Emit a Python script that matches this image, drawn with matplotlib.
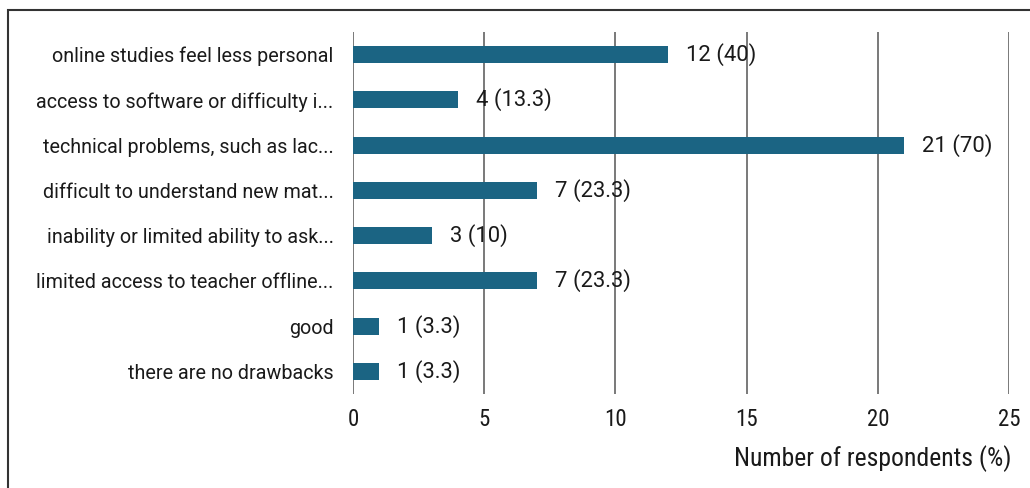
import matplotlib
matplotlib.use("Agg")
import matplotlib.pyplot as plt
from matplotlib.patches import Rectangle
from matplotlib import font_manager

categories = [
    "online studies feel less personal",
    "access to software or difficulty i...",
    "technical problems, such as lac...",
    "difficult to understand new mat...",
    "inability or limited ability to ask...",
    "limited access to teacher offline...",
    "good",
    "there are no drawbacks",
]
counts = [12, 4, 21, 7, 3, 7, 1, 1]
percents = ["40", "13.3", "70", "23.3", "10", "23.3", "3.3", "3.3"]
xticks = [0, 5, 10, 15, 20, 25]

names = {f.name for f in font_manager.fontManager.ttflist}
cond = "DejaVu Sans"
for cand in ["Liberation Sans Narrow", "Roboto Condensed", "DejaVu Sans Condensed"]:
    if cand in names:
        cond = cand
        break

fig = plt.figure(figsize=(10.30, 4.88), dpi=100)
W, H = 1030, 488
ax = fig.add_axes([353 / W, 1 - 394 / H, (1009 - 353) / W, (394 - 32) / H])

ypos = list(range(len(categories)))
ax.barh(ypos, counts, height=0.375, color="#1b6483", zorder=3)
ax.set_ylim(len(categories) - 0.5, -0.5)
ax.set_xlim(0, 25)
ax.set_yticks(ypos)
ax.set_yticklabels(categories, fontfamily="Roboto", fontsize=14.2, color="#1a1a1a")
ax.set_xticks(xticks)
ax.set_xticklabels([str(t) for t in xticks], fontfamily=cond, fontstretch="condensed",
                   fontsize=16.5, color="#1a1a1a")
ax.tick_params(axis="both", length=0)
ax.tick_params(axis="y", pad=14)
ax.tick_params(axis="x", pad=10)
for s in ax.spines.values():
    s.set_visible(False)
ax.grid(axis="x", color="#555555", linewidth=1.1, zorder=1)
ax.grid(axis="y", visible=False)

for y, c, p in zip(ypos, counts, percents):
    ax.annotate(f"{c} ({p})", xy=(c, y), xytext=(13, 0), textcoords="offset points",
                va="center", ha="left", fontfamily="Roboto", fontsize=15.8, color="#1a1a1a")

ax.set_xlabel("Number of respondents (%)", fontfamily=cond, fontstretch="condensed",
              fontsize=18.5, color="#1a1a1a", loc="right", labelpad=10)
ax.xaxis.label.set_position((1.004, 0))

fig.patches.append(Rectangle((8 / W, -0.1), 1.2, 1 - 10 / H + 0.1, transform=fig.transFigure,
                             fill=False, edgecolor="#333333", linewidth=1.5, zorder=0))

fig.savefig("out.png", dpi=100)
